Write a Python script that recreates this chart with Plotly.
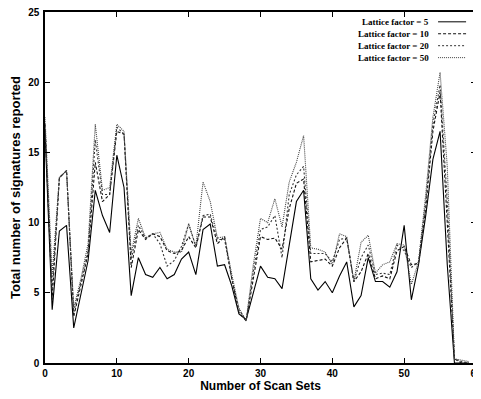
import plotly.graph_objects as go

scan_sets = list(range(0, 60))

lf5 = [16.5, 3.8, 9.4, 9.8, 2.5, 4.8, 7.3, 12.3, 10.5, 9.3,
       14.8, 12.5, 4.8, 7.5, 6.3, 6.1, 6.8, 6.0, 6.3, 7.4,
       7.9, 6.3, 9.5, 9.9, 6.9, 7.0, 5.5, 3.5, 3.1, 5.0,
       6.9, 6.1, 6.0, 5.3, 8.5, 11.5, 12.3, 6.0, 5.2, 5.8,
       5.0, 6.2, 7.2, 4.0, 4.8, 7.5, 5.8, 5.8, 5.4, 6.5,
       9.8, 4.5, 7.0, 10.5, 14.5, 16.5, 7.0, 0.0, 0.0, 0.0]

lf10 = [17.0, 4.5, 13.2, 13.7, 3.3, 5.5, 7.8, 14.3, 11.5, 12.0,
        16.5, 16.3, 6.8, 9.5, 8.8, 9.2, 9.0, 8.0, 7.8, 8.0,
        9.0, 8.2, 10.4, 10.4, 8.5, 9.0, 6.0, 3.6, 3.0, 6.0,
        9.0, 8.8, 8.9, 8.1, 11.0, 12.8, 13.1, 7.2, 7.3, 7.4,
        6.9, 8.2, 8.9, 5.8, 6.5, 7.8, 6.0, 6.2, 6.0, 8.0,
        8.3, 7.0, 7.1, 11.0, 16.5, 19.3, 10.0, 0.3, 0.0, 0.0]

lf20 = [17.0, 5.3, 13.2, 13.7, 3.6, 5.7, 8.0, 15.9, 12.0, 12.0,
        16.8, 16.3, 7.4, 9.8, 8.9, 9.2, 8.5, 6.9, 7.3, 8.3,
        9.9, 8.3, 10.5, 10.6, 8.8, 8.8, 6.0, 3.8, 3.0, 6.5,
        9.5, 9.7, 10.5, 7.5, 12.0, 13.4, 14.0, 7.8, 7.8, 7.8,
        7.2, 8.8, 8.9, 5.8, 7.5, 8.4, 6.3, 6.4, 6.3, 8.4,
        8.0, 6.8, 7.2, 11.5, 17.0, 19.8, 11.5, 0.3, 0.1, 0.0]

lf50 = [17.5, 6.3, 13.2, 13.7, 3.9, 6.0, 8.5, 17.0, 12.3, 12.5,
        17.0, 16.5, 7.8, 10.3, 8.9, 9.2, 9.3, 8.1, 7.9, 7.9,
        9.9, 8.3, 12.9, 11.5, 8.9, 9.0, 6.3, 3.9, 3.0, 7.0,
        10.3, 10.0, 11.7, 9.7, 12.9, 14.3, 16.2, 8.2, 8.1, 7.9,
        7.0, 9.2, 9.0, 5.8, 8.6, 9.1, 6.4, 7.0, 7.2, 8.5,
        8.4, 5.6, 7.2, 12.0, 17.5, 20.7, 14.0, 0.3, 0.2, 0.1]

series_names = ["Lattice factor = 5", "Lattice factor = 10",
                "Lattice factor = 20", "Lattice factor = 50"]
series_values = [lf5, lf10, lf20, lf50]
dashes = ["solid", "3px,2px", "2px,2px", "1px,1px"]
colors = ["#000000", "#111111", "#333333", "#444444"]

x_ticks = [0, 10, 20, 30, 40, 50, 60]
y_ticks = [0, 5, 10, 15, 20, 25]

fig = go.Figure()
for name, vals, d, c in zip(series_names, series_values, dashes, colors):
    fig.add_trace(go.Scatter(x=scan_sets, y=vals, mode="lines", name=name,
                             showlegend=False,
                             line=dict(color=c, width=1.1, dash=d)))

# key (text left, line sample right), placed in paper coordinates
legend_font = dict(family="Liberation Serif, Times New Roman", size=9,
                   color="black", weight="bold")
row_y = [0.972, 0.938, 0.904, 0.870]
for name, d, c, yy in zip(series_names, dashes, colors, row_y):
    fig.add_annotation(xref="paper", yref="paper", x=0.895, y=yy,
                       text=name, showarrow=False, xanchor="right",
                       yanchor="middle", font=legend_font)
    fig.add_shape(type="line", xref="paper", yref="paper",
                  x0=0.912, x1=0.977, y0=yy, y1=yy,
                  line=dict(color=c, width=1, dash=d))

tickfont = dict(family="Liberation Sans Narrow, Liberation Sans, Arial", size=10,
                color="black", weight="bold")
axis_common = dict(showgrid=False, zeroline=False, showline=True, linecolor="black",
                   linewidth=1.5, mirror="ticks", ticks="inside", ticklen=5,
                   tickwidth=1, tickcolor="black", tickfont=tickfont,
                   ticklabeloverflow="allow", automargin=False)

fig.update_layout(
    width=473, height=391,
    margin=dict(l=37, r=5, t=4, b=36),
    paper_bgcolor="white", plot_bgcolor="white",
    xaxis=dict(range=[0, 60], tickvals=x_ticks, **axis_common,
               title=dict(text="Number of Scan Sets", standoff=3,
                          font=dict(family="Liberation Sans, Arial", size=12,
                                    color="black", weight="bold"))),
    yaxis=dict(range=[0, 25], tickvals=y_ticks, **axis_common,
               ticklabelstandoff=2,
               title=dict(text="Total number of signatures reported", standoff=9,
                          font=dict(family="Liberation Sans, Arial", size=13,
                                    color="black", weight="bold"))),
    showlegend=False,
)

fig.write_html("out.html")
